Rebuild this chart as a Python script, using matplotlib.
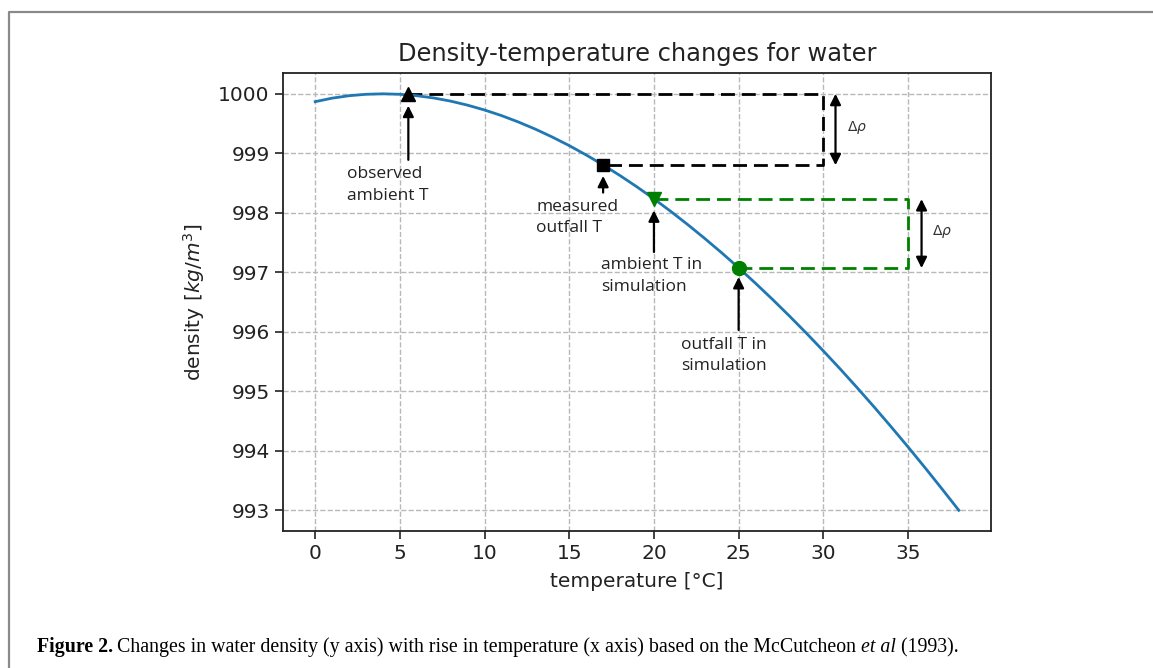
import matplotlib
matplotlib.use("Agg")
import matplotlib.pyplot as plt
from matplotlib.lines import Line2D

# ---- data ----
temperature = list(range(0, 39))
density = [999.868, 999.927, 999.968, 999.992, 1000.000, 999.992, 999.968, 999.930,
           999.877, 999.809, 999.728, 999.634, 999.526, 999.406, 999.273, 999.129,
           998.972, 998.804, 998.625, 998.435, 998.234, 998.022, 997.800, 997.568,
           997.327, 997.075, 996.814, 996.544, 996.264, 995.976, 995.678, 995.373,
           995.058, 994.735, 994.403, 994.064, 993.716, 993.360, 992.998]

obs_T, obs_rho = 5.5, 1000.0
meas_T, meas_rho = 17.0, 998.80
amb_T, amb_rho = 20.0, 998.23
out_T, out_rho = 25.0, 997.07
box1_x = 30.0
box2_x = 35.0

xticks = [0, 5, 10, 15, 20, 25, 30, 35]
yticks = [993, 994, 995, 996, 997, 998, 999, 1000]

title = "Density-temperature changes for water"
xlabel = "temperature [°C]"
ylabel = "density [$kg/m^3$]"
labels = {
    "obs": "observed\nambient T",
    "meas": "measured\noutfall T",
    "amb": "ambient T in\nsimulation",
    "out": "outfall T in\nsimulation",
}

W, H = 1153, 668
fig = plt.figure(figsize=(W / 100, H / 100), dpi=100)
ax = fig.add_axes([283 / W, 1 - 531 / H, (991 - 283) / W, (531 - 73) / H])

ax.plot(temperature, density, color="#1f77b4", lw=2, zorder=3)

dash = (0, (5, 2.5))
# black box
ax.plot([obs_T, box1_x, box1_x, meas_T], [obs_rho, obs_rho, meas_rho, meas_rho],
        color="k", lw=2, linestyle=dash, zorder=2)
# green box
ax.plot([amb_T, box2_x, box2_x, out_T], [amb_rho, amb_rho, out_rho, out_rho],
        color="g", lw=2, linestyle=dash, zorder=2)

ax.plot([obs_T], [obs_rho], marker="^", color="k", ms=10, zorder=5)
ax.plot([meas_T], [meas_rho], marker="s", color="k", ms=9, zorder=5)
ax.plot([amb_T], [amb_rho], marker="v", color="g", ms=10, zorder=5)
ax.plot([out_T], [out_rho], marker="o", color="g", ms=10, zorder=5)

ap = dict(arrowstyle="-|>", color="k", lw=1.6, mutation_scale=16, shrinkA=0, shrinkB=0)
ax.annotate("", xy=(obs_T, 999.8), xytext=(obs_T, 998.89), arrowprops=ap)
ax.annotate("", xy=(meas_T, 998.62), xytext=(meas_T, 998.34), arrowprops=ap)
ax.annotate("", xy=(amb_T, 998.04), xytext=(amb_T, 997.34), arrowprops=ap)
ax.annotate("", xy=(out_T, 996.92), xytext=(out_T, 996.03), arrowprops=ap)

dp = dict(arrowstyle="<|-|>", color="k", lw=1.6, mutation_scale=16, shrinkA=0, shrinkB=0)
ax.annotate("", xy=(30.72, obs_rho), xytext=(30.72, meas_rho), arrowprops=dp)
ax.annotate("", xy=(35.8, amb_rho), xytext=(35.8, out_rho), arrowprops=dp)
ax.text(31.4, 999.43, r"$\Delta\rho$", fontsize=10, va="center", ha="left", color="#333333")
ax.text(36.4, 997.68, r"$\Delta\rho$", fontsize=10, va="center", ha="left", color="#333333")

tkw = dict(fontsize=12.5, family="Open Sans", va="center", ha="left",
           linespacing=1.45, color="#222222")
ax.text(1.9, 998.47, labels["obs"], **tkw)
ax.text(13.06, 997.92, labels["meas"], **tkw)
ax.text(16.9, 996.94, labels["amb"], **tkw)
ax.text(21.6, 995.6, labels["out"], **tkw)

ax.set_xlim(-1.9, 39.9)
ax.set_ylim(992.65, 1000.35)
ax.set_xticks(xticks)
ax.set_yticks(yticks)
ax.tick_params(labelsize=14.5, length=6, width=1.2, colors="#222222")
ax.grid(True, linestyle="--", color="#b8b8b8", lw=1)
for s in ax.spines.values():
    s.set_linewidth(1.3)
    s.set_color("#222222")
ax.set_title(title, fontsize=17.4, pad=9, color="#222222")
ax.set_xlabel(xlabel, fontsize=14.5, labelpad=6, color="#222222")
ax.set_ylabel(ylabel, fontsize=14.5, labelpad=8, color="#222222")

# figure frame
fig.add_artist(Line2D([9 / W, 9 / W, 1.0], [0.0, 1 - 12 / H, 1 - 12 / H],
                      transform=fig.transFigure, color="#8a8a8a", lw=1.6))

# caption (all pieces on one baseline)
cy = 1 - 652 / H
cap = fig.text(37 / W, cy, "Figure 2.", fontsize=14.3, family="Liberation Serif",
               weight="bold", va="baseline", ha="left")
fig.canvas.draw()
r = fig.canvas.get_renderer()
bb = cap.get_window_extent(r)
x = bb.x1 + 4
parts = [("Changes in water density (y axis) with rise in temperature (x axis) based on the McCutcheon ", "normal"),
         ("et al", "italic"),
         (" (1993).", "normal")]
for s, st in parts:
    t = fig.text(x / W, cy, s, fontsize=14.3, family="Liberation Serif", style=st,
                 va="baseline", ha="left")
    fig.canvas.draw()
    x = t.get_window_extent(r).x1

fig.savefig("out.png", dpi=100)
